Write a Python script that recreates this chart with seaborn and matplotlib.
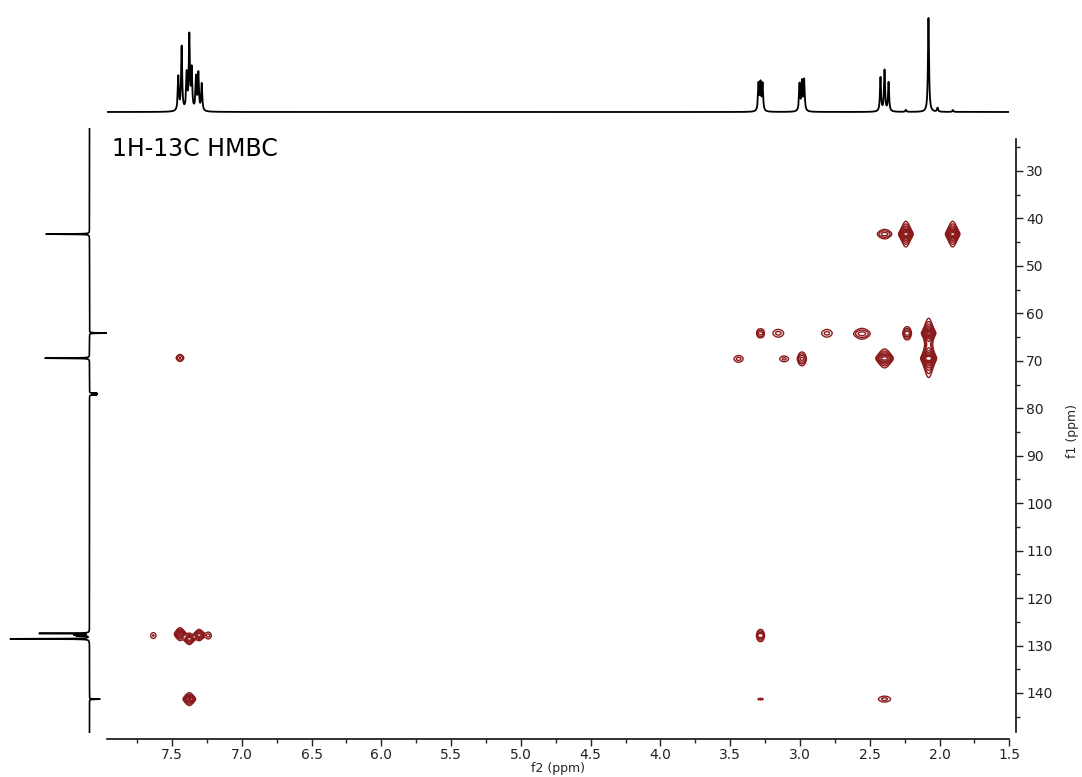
import numpy as np
import pandas as pd
import matplotlib
matplotlib.use('Agg')
import matplotlib.pyplot as plt
from matplotlib.ticker import MultipleLocator, FormatStrFormatter
import seaborn as sns

sns.set_theme(style='ticks')
plt.rcParams['font.family'] = ['DejaVu Sans']

# 1H projection peaks (ppm, height in px-ish units)
h_ppm = [7.455, 7.431, 7.395, 7.376, 7.359, 7.328, 7.311, 7.287,
         3.297, 3.283, 3.268, 3.003, 2.986, 2.970,
         2.423, 2.394, 2.365, 2.241, 2.079, 2.014, 1.904]
h_int = [34, 64, 36, 74, 40, 33, 37, 27,
         27, 27, 27, 27, 29, 31,
         34, 41, 29, 2, 94, 4, 2]

# 13C projection peaks (ppm, intensity; negative = drawn to the right)
c_ppm = [43.3, 64.15, 69.45, 77.16, 77.0, 76.84, 127.45, 127.8, 127.95, 128.6, 141.3]
c_int = [43.5, -17.0, 44.5, -7.0, -7.0, -7.0, 50.0, 14.0, 12.0, 79.0, -10.5]

# HMBC cross peaks: f2 (1H), f1 (13C), amplitude, f2 width, f1 width
xp_f2 = [2.394, 2.241, 1.906,
         3.300, 3.283, 3.266, 3.156, 2.807, 2.556, 2.248, 2.232, 2.216, 2.078,
         3.440, 3.113, 3.003, 2.986, 2.970, 2.394, 2.078, 7.443,
         7.634, 7.443, 7.376, 7.306, 7.240,
         3.298, 3.283, 3.268,
         7.376, 3.297, 3.283, 3.268, 2.394]
xp_f1 = [43.3, 43.3, 43.3,
         64.2, 64.2, 64.2, 64.2, 64.2, 64.3, 64.2, 64.2, 64.2, 64.2,
         69.6, 69.6, 69.6, 69.6, 69.6, 69.5, 69.5, 69.4,
         127.9, 127.6, 128.6, 127.8, 127.9,
         127.9, 127.9, 127.9,
         141.3, 141.3, 141.3, 141.3, 141.3]
xp_amp = [3.0, 30, 30,
          2.0, 2.2, 2.0, 1.8, 1.8, 3.0, 3.0, 3.2, 3.0, 40,
          1.8, 1.7, 2.3, 2.5, 2.3, 12, 60, 2.5,
          1.6, 10, 8, 8, 1.8,
          3.5, 3.8, 3.5,
          10, 1.3, 1.5, 1.3, 1.8]
xp_sx = [0.035, 0.02, 0.02,
         0.009, 0.009, 0.009, 0.035, 0.035, 0.04, 0.01, 0.01, 0.01, 0.019,
         0.03, 0.03, 0.012, 0.012, 0.012, 0.028, 0.02, 0.02,
         0.02, 0.019, 0.019, 0.019, 0.02,
         0.009, 0.009, 0.009,
         0.021, 0.004, 0.004, 0.004, 0.04]
xp_wy = [0.7, 0.5, 0.5,
         0.7, 0.7, 0.7, 0.9, 0.9, 0.8, 0.7, 0.7, 0.7, 0.45,
         0.8, 0.7, 0.8, 0.8, 0.8, 0.6, 0.5, 0.6,
         0.8, 0.45, 0.45, 0.45, 0.8,
         0.6, 0.6, 0.6,
         0.45, 0.3, 0.3, 0.3, 0.7]

X_LIM = (7.966, 1.5)
Y_LIM = (148.44, 20.94)
RED = '#8B1A1A'

W, H = 1082, 777
fig = plt.figure(figsize=(W / 100, H / 100), dpi=100)

def frac(x0, y0, x1, y1):
    return [x0 / W, 1 - y1 / H, (x1 - x0) / W, (y1 - y0) / H]

ax = fig.add_axes(frac(107, 128, 1009.3, 733))
ax_top = fig.add_axes(frac(107, 0, 1009.3, 120))
ax_left = fig.add_axes(frac(0, 128, 107, 733))

# --- 2D contour map ---
gx = np.arange(1.5, 7.97, 0.002)
gy = np.arange(20.0, 150.0, 0.08)
Z = np.zeros((gy.size, gx.size))
for f2, f1, a, sx, wy in zip(xp_f2, xp_f1, xp_amp, xp_sx, xp_wy):
    px = np.exp(-0.5 * ((gx - f2) / sx) ** 2)
    py = 1.0 / (1.0 + ((gy - f1) / wy) ** 2)
    Z += a * np.outer(py, px)
levels = 1.0 * 1.55 ** np.arange(9)
ax.contour(gx, gy, Z, levels=levels, colors=RED, linewidths=1.0)

ax.set_xlim(*X_LIM)
ax.set_ylim(*Y_LIM)
ax.yaxis.tick_right()
ax.yaxis.set_label_position('right')
ax.spines['top'].set_visible(False)
ax.spines['left'].set_visible(False)
ax.spines['right'].set_position(('outward', 5))
ax.spines['bottom'].set_position(('outward', 4))
ax.spines['right'].set_bounds(148.2, 23.3)
ax.xaxis.set_major_locator(MultipleLocator(0.5))
ax.xaxis.set_minor_locator(MultipleLocator(0.25))
ax.xaxis.set_major_formatter(FormatStrFormatter('%.1f'))
ax.set_yticks(np.arange(30, 141, 10))
ax.yaxis.set_minor_locator(MultipleLocator(5))
ax.tick_params(axis='both', which='major', direction='out', length=5, width=1,
               labelsize=10, colors='#222222', pad=2)
ax.tick_params(axis='both', which='minor', direction='out', length=3, width=1)
for s in ('bottom', 'right'):
    ax.spines[s].set_linewidth(1.2)
    ax.spines[s].set_color('#111111')
ax.set_xlabel('f2 (ppm)', fontsize=9, labelpad=0)
ax.set_ylabel('f1 (ppm)', fontsize=9, labelpad=10)
ax.text(0.006, 0.985, '1H-13C HMBC', transform=ax.transAxes, fontsize=17,
        ha='left', va='top', color='black')

# --- top 1H projection ---
hx = np.arange(1.5, 7.966, 0.0005)
hy = np.zeros_like(hx)
for p, h in zip(h_ppm, h_int):
    hy += h / (1.0 + ((hx - p) / 0.0045) ** 2)
top_df = pd.DataFrame({'ppm': hx, 'int': hy})
sns.lineplot(data=top_df, x='ppm', y='int', ax=ax_top, color='black',
             linewidth=1.3, sort=False, estimator=None)
ax_top.set_xlim(*X_LIM)
ax_top.set_ylim(-8, 112)
ax_top.axis('off')

# --- left 13C projection ---
cy = np.arange(20.94, 148.44, 0.01)
cx = np.zeros_like(cy)
for p, h in zip(c_ppm, c_int):
    cx += h / (1.0 + ((cy - p) / 0.04) ** 2)
left_df = pd.DataFrame({'ppm': cy, 'int': cx})
sns.lineplot(data=left_df, x='int', y='ppm', ax=ax_left, color='black',
             linewidth=1.2, sort=False, estimator=None, orient='y')
ax_left.set_xlim(89.5, -17.5)
ax_left.set_ylim(*Y_LIM)
ax_left.axis('off')

fig.savefig('out.png', dpi=100)
